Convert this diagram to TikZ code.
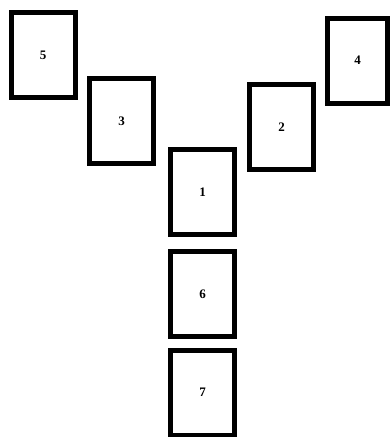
\documentclass[tikz,border=0pt]{standalone}
\usepackage{fontspec}
\setmainfont{Liberation Serif}
\begin{document}
\begin{tikzpicture}[x=1pt, y=-1pt,
    cardbox/.style={draw, line width=5pt, rectangle, inner sep=0pt,
        minimum width=64pt, minimum height=85pt, font=\bfseries\fontsize{13}{13}\selectfont}]
                % Fixed canvas size
                \useasboundingbox (0,0) rectangle (390,437);
                
                % Left arm (top to bottom)
                \foreach \n/\x/\y in {5/43/55, 3/121.5/121} 
                    \node [cardbox] (card\n) at (\x,\y) {\n};
                
                % Right arm
                \node [cardbox] (card2) at (281.5,127) {2};
                \node [cardbox, minimum width=60pt] (card4) at (357.5,60.5) {4};
                
                % Stem
                \foreach \n/\y in {1/192, 6/294, 7/392.5} 
                    \node [cardbox] (card\n) at (202.5,\y) {\n};
            \end{tikzpicture}
\end{document}
